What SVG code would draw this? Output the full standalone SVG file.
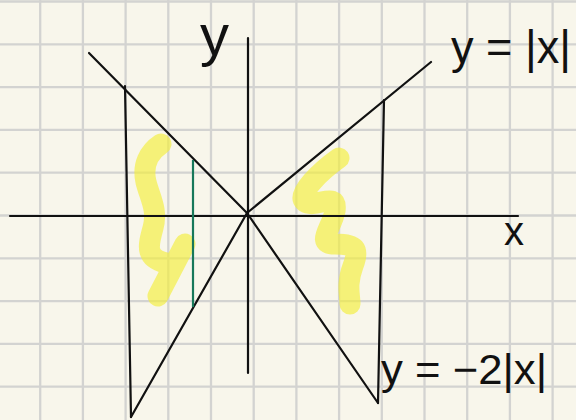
<svg xmlns="http://www.w3.org/2000/svg" width="576" height="420" viewBox="0 0 576 420">
<style>
.grid line{stroke:#d3d3d1;stroke-width:2.3}
.ink{stroke:#111;stroke-width:2.2;fill:none;stroke-linecap:round;stroke-linejoin:round}
.hl{stroke:#f3ee3c;stroke-opacity:0.66;stroke-width:21;fill:none;stroke-linecap:round;stroke-linejoin:round}
.lbl{font-family:"Liberation Sans","DejaVu Sans",sans-serif;fill:#111}
</style>
<rect width="576" height="420" fill="#f8f6eb"/>
<g class="grid">
<line x1="40.2" y1="0" x2="40.2" y2="420"/>
<line x1="82.9" y1="0" x2="82.9" y2="420"/>
<line x1="125.6" y1="0" x2="125.6" y2="420"/>
<line x1="168.3" y1="0" x2="168.3" y2="420"/>
<line x1="211" y1="0" x2="211" y2="420"/>
<line x1="253.7" y1="0" x2="253.7" y2="420"/>
<line x1="296.4" y1="0" x2="296.4" y2="420"/>
<line x1="339.1" y1="0" x2="339.1" y2="420"/>
<line x1="381.8" y1="0" x2="381.8" y2="420"/>
<line x1="424.5" y1="0" x2="424.5" y2="420"/>
<line x1="467.2" y1="0" x2="467.2" y2="420"/>
<line x1="509.9" y1="0" x2="509.9" y2="420"/>
<line x1="552.6" y1="0" x2="552.6" y2="420"/>
<line x1="0" y1="1.5" x2="576" y2="1.5"/>
<line x1="0" y1="44.3" x2="576" y2="44.3"/>
<line x1="0" y1="87.1" x2="576" y2="87.1"/>
<line x1="0" y1="129.9" x2="576" y2="129.9"/>
<line x1="0" y1="172.7" x2="576" y2="172.7"/>
<line x1="0" y1="215.5" x2="576" y2="215.5"/>
<line x1="0" y1="258.3" x2="576" y2="258.3"/>
<line x1="0" y1="301.1" x2="576" y2="301.1"/>
<line x1="0" y1="343.9" x2="576" y2="343.9"/>
<line x1="0" y1="386.7" x2="576" y2="386.7"/>
</g>
<g id="highlights">
<path class="hl" d="M161,144 C149,152 142,165 146,182 C150,198 158,210 153,228 C148,246 145,258 166,263 M185,244 L158,296"/>
<path class="hl" d="M339,158 C322,170 296,194 305,202 C316,209 338,190 335,211 C332,228 315,244 335,244 C355,244 360,248 353,266 C346,285 350,295 350,304"/>
</g>
<g id="connectors">
<line class="ink" x1="10" y1="216" x2="518" y2="216"/>
<line class="ink" x1="248" y1="38" x2="248" y2="373"/>
<line class="ink" x1="89" y1="53" x2="247" y2="213"/>
<line class="ink" x1="247" y1="213" x2="431" y2="62"/>
<line class="ink" x1="247" y1="213" x2="131" y2="417"/>
<line class="ink" x1="247" y1="213" x2="378" y2="403"/>
<line class="ink" x1="125" y1="86" x2="131" y2="417"/>
<line class="ink" x1="384" y1="100" x2="378" y2="403"/>
<line x1="193" y1="160" x2="193" y2="307" stroke="#17785a" stroke-width="2.2"/>
</g>
<g id="labels">
<text class="lbl" x="200" y="55" font-size="58">y</text>
<text class="lbl" x="451" y="63" font-size="46" textLength="120" lengthAdjust="spacingAndGlyphs">y = |x|</text>
<text class="lbl" x="504" y="245" font-size="40">x</text>
<text class="lbl" x="381" y="384" font-size="42" textLength="166" lengthAdjust="spacingAndGlyphs">y = −2|x|</text>
</g>
</svg>
